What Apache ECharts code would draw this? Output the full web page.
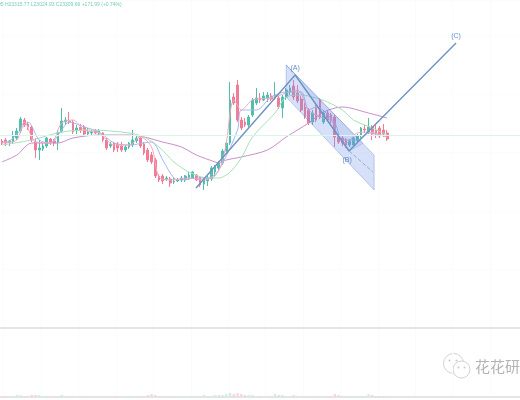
<!DOCTYPE html>
<html><head><meta charset="utf-8">
<style>html,body{margin:0;padding:0;background:#fff}#c{width:520px;height:400px}</style>
<script src="https://cdn.jsdelivr.net/npm/echarts@6/dist/echarts.min.js"></script></head>
<body><div id="c"></div>
<script>
var legendText = '95 H23315.77 L23024.93 C23309.66 +171.99 (+0.74%)';
var opens = [23170,23200,23140,23140,23260,23470,23800,23680,23590,23140,22900,22930,23020,23230,23170,23140,23470,23740,23770,23740,23500,23590,23590,23380,23410,23470,23410,23410,23200,23020,23110,23080,23020,22900,22990,23050,23170,23260,23080,22900,22750,22600,22120,22120,22030,22030,21940,21970,22000,22000,22060,22060,22150,22090,21880,21970,22030,22240,22360,22510,22870,23110,24490,24850,23800,23740,23650,23950,24310,24460,24400,24460,24520,24460,24460,24160,24490,24640,24820,24610,24430,24190,24100,23740,24160,24400,23740,24010,23950,23890,23290,23260,23200,23050,23050,23170,23320,23530,23440,23590,23500,23560,23500,23410];
var closes = [23110,23110,23170,23320,23470,23830,23650,23590,23200,22900,22960,23020,23260,23140,23110,23440,23770,23800,23740,23440,23560,23500,23380,23440,23440,23410,23470,23200,22960,23080,22900,22960,22900,22990,23110,23200,23260,23020,22810,22600,22540,22120,22000,21970,22060,21910,21970,22000,22060,22120,22150,22240,22000,21850,22030,22060,22360,22390,22510,22870,23110,24400,24310,23800,23560,23650,23890,24400,24460,24400,24520,24550,24430,24550,24190,24490,24700,24760,24490,24370,24100,23890,23710,24010,23800,23890,24010,23800,23800,23290,23140,23110,23050,23170,23260,23320,23560,23500,23590,23380,23410,23320,23380,23230];
var highs = [23230,23260,23200,23470,23560,23890,23860,23740,23620,23260,23200,23110,23290,23260,23230,23500,24160,23890,24040,23800,23650,23680,23650,23560,23500,23530,23530,23440,23260,23140,23140,23140,23140,23050,23140,23500,23350,23290,23140,22960,22840,22660,22180,22180,22120,22090,22060,22060,22120,22150,22240,22270,22180,22120,22060,22120,22420,22450,22570,22930,23170,24940,24610,25000,23890,23860,23950,24460,24760,24610,24640,24640,24610,24940,24520,24550,24760,24850,25000,24850,24520,24310,24160,24100,24250,24460,24100,24100,24010,23950,23350,23320,23260,23230,23290,23380,23590,23650,23860,23650,23650,23620,23680,23500];
var lows = [23050,23020,23020,23080,23200,23410,23590,23500,23140,22660,22600,22870,22960,23050,23020,22900,23410,23650,23680,23380,23380,23410,23320,23320,23350,23380,23350,23140,22900,22960,22840,22840,22840,22840,22930,22990,23110,22960,22750,22540,22480,22060,21940,21880,21970,21790,21880,21940,21940,21940,22000,22030,21970,21790,21700,21820,21970,22120,22300,22450,22810,23050,24250,23740,23500,23590,23590,23890,24250,24310,24370,24340,24370,24400,24130,23860,24400,24550,24400,24310,24040,23830,23650,23650,23740,23830,23680,23740,23710,22990,23080,23020,22960,22990,22990,23110,23260,23410,23380,23200,23260,23260,23290,23170];
var volumes = [1,1,1,1,2,2,1,1,2,2,2,1,1,1,1,1,2,1,1,1,1,1,1,1,1,1,1,1,1,1,1,1,1,1,1,1,1,1,1,2,3,2,1,1,1,1,1,1,1,1,1,1,1,1,2,1,1,2,2,2,3,4,3,4,3,2,2,2,1,1,1,1,1,3,2,2,1,1,2,1,1,1,1,1,1,1,1,1,1,3,2,1,1,1,1,1,1,1,3,2,1,1,1,1];
var maSlow = [[0,22540],[4,22750],[8,23110],[15,23110],[19,23260],[26,23350],[34,23350],[38,23290],[43,23140],[48,22990],[52,22750],[57,22540],[58,22510],[60,22600],[64,22690],[71,22900],[76,23290],[82,23710],[86,24040],[91,24190],[98,24010],[103,23860]];
var maMid = [[0,23050],[8,23200],[16,23440],[24,23500],[34,23410],[38,23290],[42,22990],[46,22540],[50,22240],[55,22060],[58,22060],[61,22240],[64,22660],[67,23290],[73,24010],[76,24490],[80,24550],[84,24460],[87,24340],[91,24100],[94,23800],[97,23650],[99,23560],[103,23350]];
var maFast = [[0,23140],[2,23170],[5,23500],[7,23740],[10,23200],[13,23110],[16,23500],[18,23740],[22,23590],[26,23440],[30,23110],[34,23050],[40,23140],[43,22600],[46,22060],[48,22000],[52,22060],[56,22060],[59,22510],[63,23500],[64,24100],[68,24100],[72,24490],[76,24640],[80,24640],[82,24100],[84,24190],[89,23710],[91,23200],[95,23200],[98,23410],[103,23290]];
var maQuick = [[0,23110],[4,23200],[6,23740],[9,23140],[13,23110],[16,23710],[19,23800],[22,23500],[26,23410],[30,23050],[34,23050],[37,23290],[40,22990],[42,22090],[45,22000],[50,22060],[54,22000],[58,22300],[60,23110],[61,24010],[62,24400],[64,24100],[67,24400],[72,24460],[76,24610],[79,24700],[82,24100],[85,23890],[88,23800],[90,23290],[92,23110],[95,23410],[98,23440],[103,23290]];
var wave = [[52.4,21760],[78.9,25150],[93.3,22870],[121.9,26110]];
var waveDashed = [[93.3,22870],[99.7,22240]];
var channel = [[76.5,25450],[100,22750],[100,21700],[76.5,24490]];
var channelInner = [[76.5,25450],[97,23100],[93.3,22870],[78.9,25150]];
var waveLabels = [[78.9,25360,'(A)'],[92.8,22600,'(B)'],[121.9,26320,'(C)']];
var lastPrice = 23350;

var barCount = 139, cats = [];
for (var k = 0; k < barCount; k++) cats.push(String(k));
var candles = opens.map(function (o, i) { return [o, closes[i], lows[i], highs[i]]; });
var up = '#52bfae', down = '#f27c98';
function maLine(data, color) {
  return {type:'line', data:data, showSymbol:false, symbol:'none', smooth:0.3, silent:true,
    xAxisIndex:0, yAxisIndex:0, lineStyle:{color:color, width:1}, z:3};
}
function poly(points, fill, stroke) {
  return {type:'custom', xAxisIndex:2, yAxisIndex:0, silent:true, z:4, data:[0],
    renderItem:function (p, api) {
      return {type:'polygon', shape:{points:points.map(function (q) { return api.coord(q); })},
        style:{fill:fill, stroke:stroke, lineWidth:0.8}};
    }};
}
var chart = echarts.init(document.getElementById('c'), null, {renderer:'canvas'});
chart.setOption({
  animation:false, backgroundColor:'#fff',
  title:{text:legendText, left:-2, top:2, padding:0, textStyle:{fontSize:5, fontWeight:'normal', color:'#75cdbb', fontFamily:'Liberation Sans'}},
  grid:[{left:0, right:0, top:0, height:328},{left:0, right:0, top:329, height:68}],
  xAxis:[
    {type:'category', gridIndex:0, data:cats, axisLabel:{show:false}, axisTick:{show:false},
     axisLine:{show:true, lineStyle:{color:'#e3e5e9', width:2}},
     splitLine:{show:true, interval:function (i) { return i % 10 === 1; }, lineStyle:{color:'#fafbfc'}}},
    {type:'category', gridIndex:1, data:cats, axisLabel:{show:false}, axisTick:{show:false},
     axisLine:{show:true, lineStyle:{color:'#e3e5e9', width:2}},
     splitLine:{show:true, interval:function (i) { return i % 10 === 1; }, lineStyle:{color:'#fafbfc'}}},
    {type:'value', gridIndex:0, min:0, max:barCount, show:false}
  ],
  yAxis:[
    {type:'value', gridIndex:0, min:17560, max:27400, interval:1756, axisLabel:{show:false}, axisTick:{show:false}, axisLine:{show:false},
     splitLine:{lineStyle:{color:'#fbfcfc'}}},
    {type:'value', gridIndex:1, min:0, max:68, axisLabel:{show:false}, axisTick:{show:false}, axisLine:{show:false}, splitLine:{show:false}}
  ],
  series:[
    {type:'candlestick', data:candles, xAxisIndex:0, yAxisIndex:0, barWidth:2.2, z:2,
     itemStyle:{color:up, color0:down, borderColor:up, borderColor0:down, borderWidth:1},
     markLine:{silent:true, symbol:'none', label:{show:false},
       lineStyle:{color:'#dcf3ee', type:'solid', width:1}, data:[{yAxis:lastPrice}]}},
    maLine(maSlow,'#c98ecb'), maLine(maMid,'#a5e2ba'), maLine(maFast,'#a6b9ee'), maLine(maQuick,'#f4a8bb'),
    poly(channel,'rgba(110,145,235,0.28)','rgba(90,125,205,0.45)'),
    poly(channelInner,'rgba(110,145,235,0.14)','rgba(90,125,205,0.35)'),
    {type:'line', data:wave, xAxisIndex:2, yAxisIndex:0, symbol:'none', silent:true, z:5,
     lineStyle:{color:'#6d93c6', width:1.4}},
    {type:'line', data:waveDashed, xAxisIndex:2, yAxisIndex:0, symbol:'none', silent:true, z:5,
     lineStyle:{color:'#98abd0', width:1, type:'dashed'}},
    {type:'scatter', data:waveLabels, xAxisIndex:2, yAxisIndex:0, symbolSize:0, silent:true, z:6,
     label:{show:true, position:'inside', formatter:function (p) { return p.value[2]; },
       fontSize:7, color:'#3f6fb5', fontFamily:'Liberation Sans'}},
    {type:'bar', data:volumes.map(function (v, i) {
        return {value:v, itemStyle:{color:closes[i] >= opens[i] ? '#cfece6' : '#f8d4dc'}};
      }), xAxisIndex:1, yAxisIndex:1, barWidth:2.2, silent:true}
  ],
  graphic:[
    {type:'group', left:443, top:353, silent:true, children:[
      {type:'circle', shape:{cx:10, cy:10, r:10}, style:{fill:'#fff', stroke:'#d2d2d2', lineWidth:1}},
      {type:'circle', shape:{cx:18, cy:16, r:8.5}, style:{fill:'#fff', stroke:'#d2d2d2', lineWidth:1}},
      {type:'circle', shape:{cx:6, cy:7, r:1}, style:{fill:'#c8c8c8'}},
      {type:'circle', shape:{cx:13, cy:7, r:1}, style:{fill:'#c8c8c8'}},
      {type:'circle', shape:{cx:15, cy:14, r:1}, style:{fill:'#c8c8c8'}},
      {type:'circle', shape:{cx:21, cy:14, r:1}, style:{fill:'#c8c8c8'}}
    ]},
    {type:'text', left:475, top:359, silent:true,
     style:{text:'花花研究', fontSize:15, fill:'#b4b4b4', fontFamily:'Noto Sans CJK SC'}}
  ]
});
</script></body></html>
